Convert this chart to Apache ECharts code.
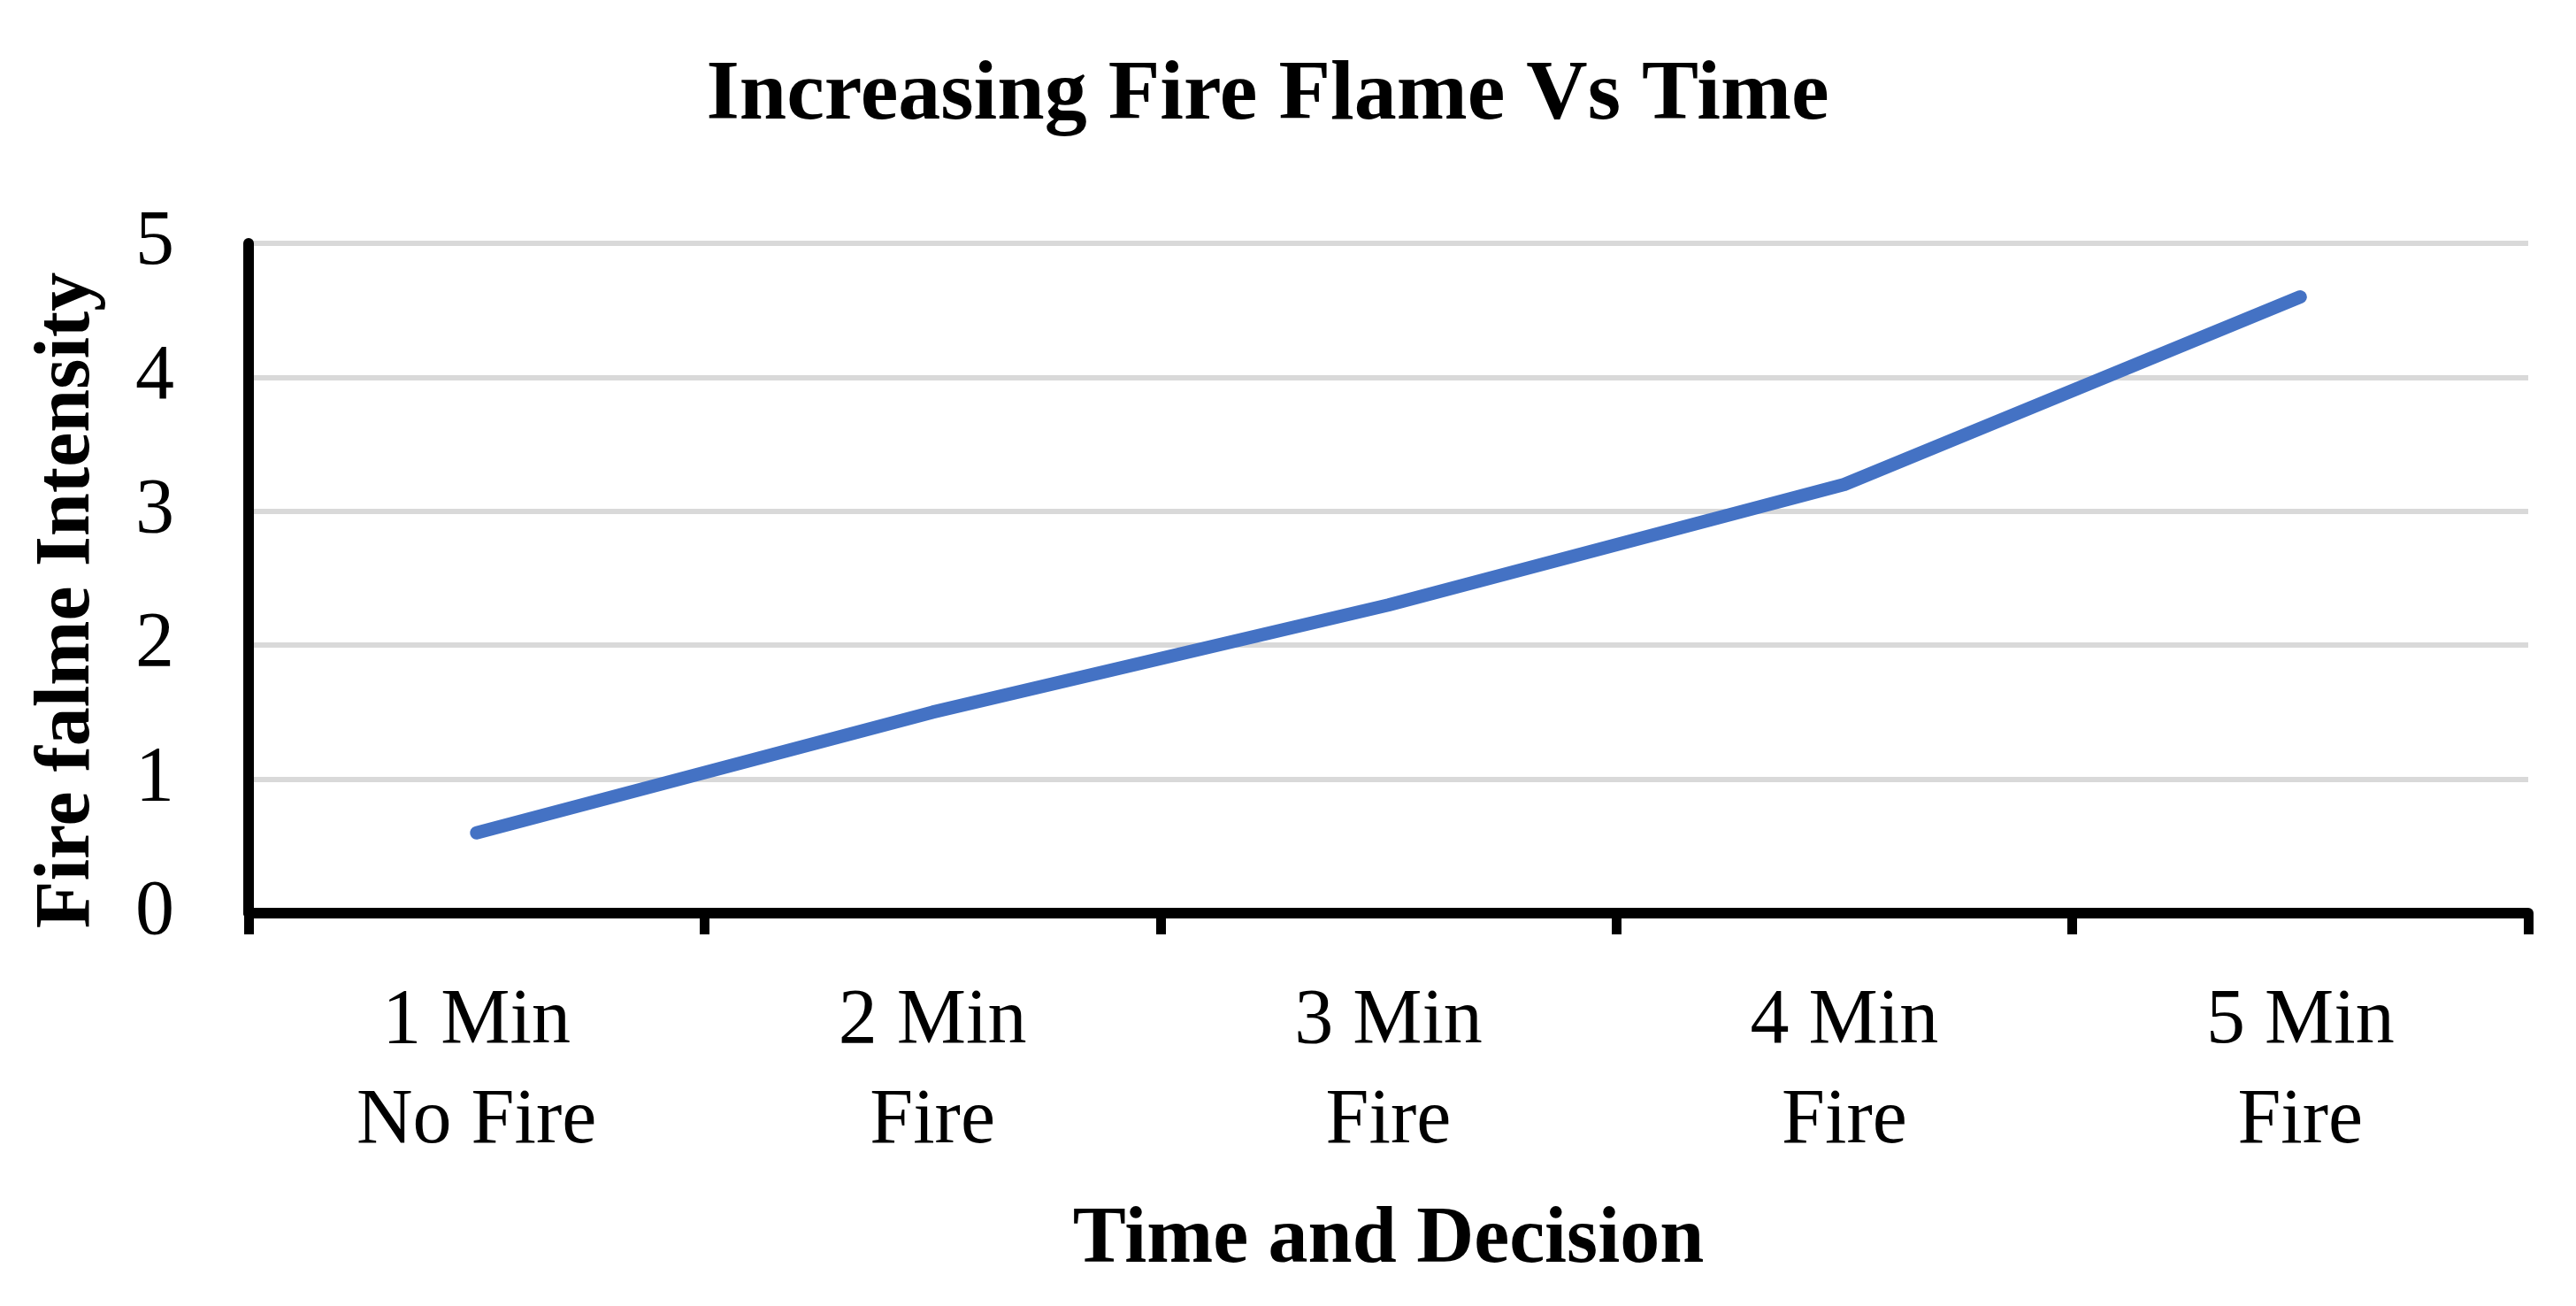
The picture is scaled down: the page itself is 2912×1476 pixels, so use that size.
<!DOCTYPE html>
<html>
<head>
<meta charset="utf-8">
<title>Increasing Fire Flame Vs Time</title>
<script src="https://cdn.jsdelivr.net/npm/echarts@6/dist/echarts.min.js"></script>
<style>
    html, body {
        margin: 0;
        padding: 0;
        background: #ffffff;
    }
    #fireLine {
        width: 2912px;
        height: 1476px;
    }
</style>
</head>
<body>
<div id="fireLine"></div>
<script>
// 横轴类目（两行）
var categories = ['1 Min\nNo Fire', '2 Min\nFire', '3 Min\nFire', '4 Min\nFire', '5 Min\nFire'];
// 火焰强度
var intensity = [0.6, 1.5, 2.3, 3.2, 4.6];
// 纵轴刻度
var yTicks = [0, 1, 2, 3, 4, 5];

var fontFamily = '"Liberation Serif", "Times New Roman", serif';

var myChart = echarts.init(document.getElementById('fireLine'));

var option = {
    backgroundColor: '#ffffff',
    animation: false,
    // 标题
    title: {
        text: 'Increasing Fire Flame Vs Time',
        left: 1428,
        top: 56,
        textAlign: 'center',
        textStyle: {
            color: '#000000',
            fontFamily: fontFamily,
            fontWeight: 'bold',
            fontSize: 96
        }
    },
    // 整体位置
    grid: {
        left: 281,
        right: 54,
        top: 275,
        bottom: 444,
        containLabel: false
    },
    xAxis: {
        type: 'category',
        data: categories,
        boundaryGap: true,
        name: 'Time and Decision',
        nameLocation: 'middle',
        nameGap: 326,
        nameTextStyle: {
            color: '#000000',
            fontFamily: fontFamily,
            fontWeight: 'bold',
            fontSize: 90
        },
        axisLine: {
            lineStyle: { color: '#000000', width: 12 }
        },
        axisTick: {
            show: true,
            length: 24,
            lineStyle: { color: '#000000', width: 11 }
        },
        axisLabel: {
            color: '#000000',
            fontFamily: fontFamily,
            fontSize: 88,
            lineHeight: 113,
            margin: 66,
            interval: 0
        }
    },
    yAxis: {
        type: 'value',
        min: yTicks[0],
        max: yTicks[yTicks.length - 1],
        interval: 1,
        name: 'Fire falme Intensity',
        nameLocation: 'middle',
        nameGap: 160,
        nameTextStyle: {
            color: '#000000',
            fontFamily: fontFamily,
            fontWeight: 'bold',
            fontSize: 88,
            padding: [0, 50, 0, 0]
        },
        axisLine: {
            show: true,
            lineStyle: { color: '#000000', width: 12 }
        },
        axisTick: { show: false },
        axisLabel: {
            color: '#000000',
            fontFamily: fontFamily,
            fontSize: 88,
            margin: 84
        },
        splitLine: {
            show: true,
            lineStyle: { color: '#d9d9d9', width: 6 }
        }
    },
    // 展示数据
    series: [
        {
            name: 'Fire flame intensity',
            type: 'line',
            data: intensity,
            symbol: 'none',
            smooth: false,
            lineStyle: {
                color: '#4472C4',
                width: 15,
                cap: 'round',
                join: 'round'
            }
        }
    ]
};

myChart.setOption(option);
</script>
</body>
</html>
